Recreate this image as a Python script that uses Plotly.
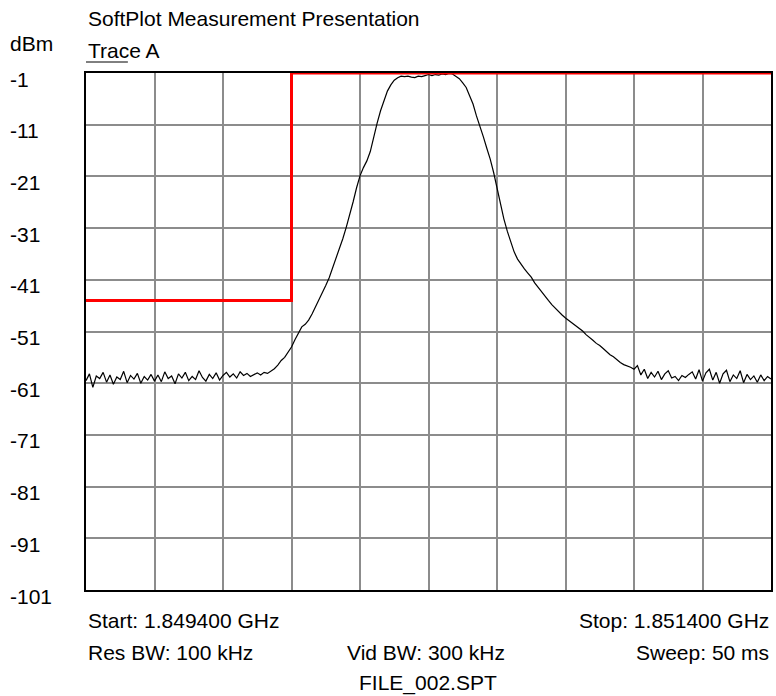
import numpy as np
import plotly.graph_objects as go

# ---- data ----
start_ghz = 1.8494
stop_ghz = 1.8514
trace_a_dbm = [
    # noise floor left
    -60.5, -59.2, -61.8, -59.6, -60.1, -58.9, -60.8, -59.4, -61.2, -59.8,
    -60.3, -58.7, -60.9, -59.5, -60.2, -59.1, -61.0, -59.7, -60.4, -59.3,
    -60.6, -59.4, -60.7, -58.8, -60.1, -59.6, -61.1, -59.2, -60.0, -58.9,
    -60.5, -59.7, -60.3, -58.6, -59.9, -60.6, -59.3, -60.1, -59.0, -60.4,
    -59.5, -58.9, -59.8, -59.2, -60.0, -58.8, -59.5, -59.1, -59.7, -59.3,
    -59.0, -59.4, -58.9, -59.1, -58.6, -58.2,
    # rising edge
    -57.5, -56.6, -56.0, -55.0, -54.0, -52.6, -51.2, -50.1, -49.6, -48.8,
    -47.6, -46.3, -44.9, -43.6, -42.1, -40.6, -38.8, -37.0, -35.0, -33.0,
    -30.8, -28.5, -25.9, -23.2, -20.9, -19.3, -18.0, -16.2, -13.3, -10.7,
    -8.3, -6.2, -4.5, -3.3, -2.4, -1.9,
    # top
    -1.6, -1.7, -1.6, -1.8, -1.9, -1.6, -1.7, -1.5, -1.3, -1.5,
    -1.3, -1.4, -1.2, -1.3, -1.1, -1.2,
    # falling edge
    -1.6, -2.1, -2.9, -3.8, -5.4, -7.0, -9.3, -11.2, -13.3, -15.5,
    -17.6, -20.2, -23.2, -26.3, -29.2, -31.6, -33.8, -35.6, -37.0, -38.0,
    -38.9, -39.7, -40.5, -41.6, -42.5, -43.4, -44.3, -45.0, -45.8, -46.5,
    -47.3, -47.8, -48.4, -48.9, -49.4, -49.9, -50.3, -50.9, -51.6, -52.1,
    -52.7, -53.3, -53.7, -54.3, -54.9, -55.5, -55.9, -56.5, -57.0, -57.4,
    -57.6, -57.9, -58.3,
    # noise floor right
    -57.6, -59.4, -58.3, -60.1, -58.9, -59.8, -58.7, -60.3, -59.2, -58.6,
    -60.0, -59.7, -60.5, -59.5, -59.9, -59.3, -58.8, -60.2, -58.4, -60.6,
    -59.0, -58.3, -60.4, -58.9, -61.0, -59.2, -58.5, -60.7, -59.4, -60.1,
    -58.6, -60.9, -59.3, -60.3, -59.6, -60.8, -59.4, -60.5, -59.7, -60.2,
]
freq_ghz = np.linspace(start_ghz, stop_ghz, len(trace_a_dbm))

limit_freq = [1.8494, 1.8500, 1.8500, 1.8514]
limit_dbm = [-45, -45, -1, -1]

y_tick_values = [-1, -11, -21, -31, -41, -51, -61, -71, -81, -91, -101]
y_tick_labels = ["-1", "-11", "-21", "-31", "-41", "-51", "-61", "-71", "-81", "-91", "-101"]

FONT = "Liberation Sans, Arial, sans-serif"
FS = 21

fig = go.Figure()
fig.add_trace(go.Scatter(x=freq_ghz, y=trace_a_dbm, mode="lines",
                         line=dict(color="black", width=1.2), showlegend=False))
fig.add_trace(go.Scatter(x=limit_freq, y=limit_dbm, mode="lines",
                         line=dict(color="#ff0000", width=3), showlegend=False,
                         cliponaxis=False))

L, R, T, B = 86, 3, 73, 106
W, H = 776, 696
pw = W - L - R

fig.update_layout(
    width=W, height=H,
    margin=dict(l=L, r=R, t=T, b=B, pad=0),
    paper_bgcolor="white", plot_bgcolor="white",
    font=dict(family=FONT, size=FS, color="black"),
    xaxis=dict(range=[start_ghz, stop_ghz], showticklabels=False, ticks="",
               showgrid=True, gridcolor="#8c8c8c", gridwidth=1.5,
               tick0=start_ghz, dtick=0.0002, zeroline=False,
               showline=True, linecolor="black", linewidth=1.5, mirror=True),
    yaxis=dict(range=[-101, -1], showticklabels=False, ticks="",
               showgrid=True, gridcolor="#8c8c8c", gridwidth=1.5,
               tick0=-1, dtick=10, zeroline=False,
               showline=True, linecolor="black", linewidth=1.5, mirror=True),
)

ann = []
for v, lab in zip(y_tick_values, y_tick_labels):
    ann.append(dict(x=(8 - L) / pw, y=v, xref="paper", yref="y", text=lab,
                    showarrow=False, xanchor="left", yanchor="middle", yshift=-6,
                    font=dict(size=FS)))


def px_ann(text, x, y, xanchor="left"):
    return dict(x=(x - L) / pw, y=(H - B - y) / (H - T - B), xref="paper", yref="paper",
                text=text, showarrow=False, xanchor=xanchor, yanchor="middle",
                font=dict(size=FS))


ann += [
    px_ann("SoftPlot Measurement Presentation", 86, 19),
    px_ann("dBm", 8, 44),
    px_ann("Trace A", 86, 51),
    px_ann("Start: 1.849400 GHz", 86, 620),
    px_ann("Stop: 1.851400 GHz", 773, 620, "right"),
    px_ann("Res BW: 100 kHz", 86, 652),
    px_ann("Vid BW: 300 kHz", 427, 652, "center"),
    px_ann("Sweep: 50 ms", 773, 652, "right"),
    px_ann("FILE_002.SPT", 429, 683, "center"),
]
fig.update_layout(annotations=ann)

# underline under "Trace"
fig.add_shape(type="line", xref="paper", yref="paper",
              x0=0, x1=(128 - L) / pw,
              y0=(H - B - 62) / (H - T - B), y1=(H - B - 62) / (H - T - B),
              line=dict(color="black", width=1))

fig.write_html("out.html", config={"displayModeBar": False},
               post_script="document.body.style.margin='0px';document.body.style.overflow='hidden';")
